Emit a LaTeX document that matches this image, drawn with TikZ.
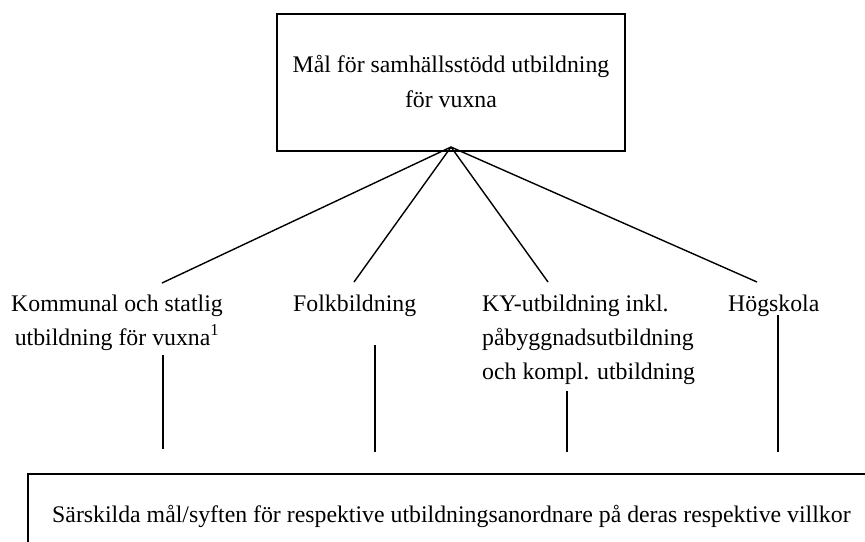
\documentclass[tikz,border=0pt]{standalone}
\usepackage{fontspec}
\setmainfont{Liberation Serif}
\begin{document}
\begin{tikzpicture}[x=1pt,y=-1pt,
  txt/.style={inner sep=0pt, font=\fontsize{23.8}{34}\selectfont},
  toptxt/.style={inner sep=0pt, font=\fontsize{23.8}{35}\selectfont},
  boxline/.style={draw, line width=1.8pt, inner sep=0pt},
  branch/.style={line width=1.4pt},
  thinstem/.style={line width=1.8pt},
  stem/.style={line width=2.8pt}]
\useasboundingbox (0,0) rectangle (865,541);
\clip (0,0) rectangle (865,541);
% top box
\node[boxline, minimum width=348pt, minimum height=137pt] (top) at (451,82.5) {};
\node[toptxt, anchor=base] (toptext) at (451,72)
  {\begin{tabular}[t]{@{}c@{}}Mål för samhällsstödd utbildning\\ för vuxna\end{tabular}};
% labels
\node[txt, anchor=base] (komm) at (117,311)
  {\begin{tabular}[t]{@{}c@{}}Kommunal och statlig\\ utbildning för vuxna\textsuperscript{1}\end{tabular}};
\node[txt, anchor=base west] (folk) at (293,311) {Folkbildning};
\node[txt, anchor=base west] (ky) at (482,311)
  {\begin{tabular}[t]{@{}l@{}}KY-utbildning inkl.\\ påbyggnadsutbildning\\ och kompl. utbildning\end{tabular}};
\node[txt, anchor=base west] (hog) at (728,311) {Högskola};
% bottom box
\node[boxline, anchor=north west, minimum width=870pt, minimum height=100pt] (bottom) at (27,473) {};
\node[txt, anchor=base west] (bottomtext) at (52,522)
  {Särskilda mål/syften för respektive utbildningsanordnare på deras respektive villkor};
% connector points
\coordinate (apex) at (451,147);
\coordinate (kommtop) at (162,283);
\coordinate (folktop) at (354,282);
\coordinate (kytop) at (548,282);
\coordinate (hogtop) at (757,282);
\coordinate (kommlow) at (163,355);
\coordinate (kommend) at (163,449);
\coordinate (folklow) at (375,345);
\coordinate (folkend) at (375,452);
\coordinate (kylow) at (567,391);
\coordinate (kyend) at (567,452);
\coordinate (hoglow) at (778,315);
\coordinate (hogend) at (778,452);
% branches
\draw[branch] (apex) -- (kommtop);
\draw[branch] (apex) -- (folktop);
\draw[branch] (apex) -- (kytop);
\draw[branch] (apex) -- (hogtop);
% stems
\draw[thinstem] (kommlow) -- (kommend);
\draw[stem] (folklow) -- (folkend);
\draw[stem] (kylow) -- (kyend);
\draw[stem] (hoglow) -- (hogend);
\end{tikzpicture}
\end{document}
